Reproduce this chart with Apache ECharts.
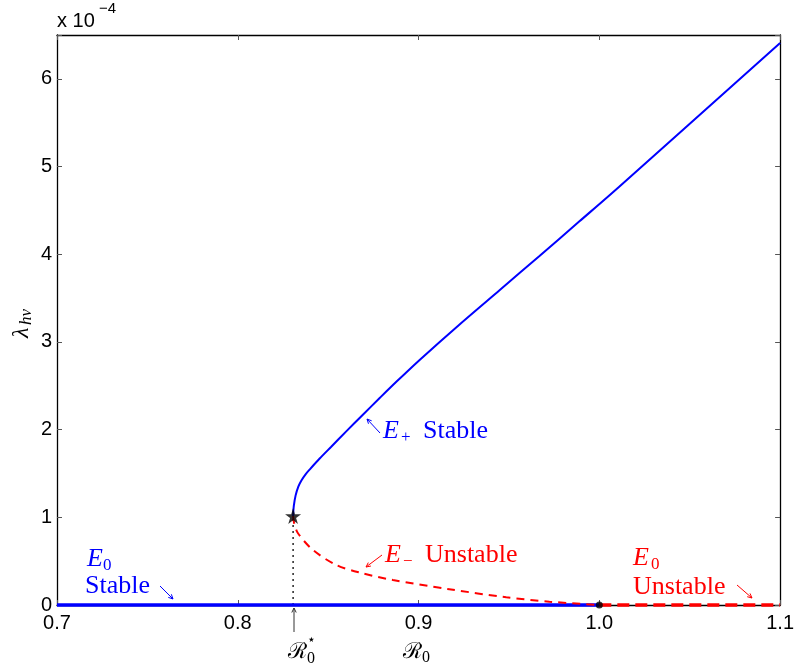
<!DOCTYPE html>
<html>
<head>
<meta charset="utf-8">
<script src="https://cdn.jsdelivr.net/npm/echarts@6/dist/echarts.min.js"></script>
<style>
  html, body { margin: 0; padding: 0; background: #fff; }
  #chart { width: 797px; height: 671px; }
</style>
</head>
<body>
<div id="chart"></div>
<script>
// values, y in units of 1e-4
const xTicks = [0.7, 0.8, 0.9, 1.0, 1.1];
const yTicks = [0, 1, 2, 3, 4, 5, 6];
const foldPoint = [0.8306, 1.015];
const transPoint = [1.0, 0];
const upperBranch = [
  [0.8306, 1.015], [0.8310, 1.13], [0.8320, 1.25], [0.8335, 1.35], [0.8352, 1.42],
  [0.8375, 1.49], [0.8400, 1.55], [0.8453, 1.67], [0.8517, 1.805], [0.8600, 1.98],
  [0.8692, 2.17], [0.8785, 2.36], [0.8877, 2.545], [0.9006, 2.795], [0.9227, 3.20],
  [0.9448, 3.59], [0.9669, 3.98], [0.9890, 4.375], [1.011, 4.77], [1.1, 6.41]
];
const lowerBranch = [
  [0.8306, 1.015], [0.8312, 0.93], [0.8333, 0.818], [0.8416, 0.627], [0.8545, 0.456],
  [0.8674, 0.37], [0.8858, 0.285], [0.917, 0.18], [0.9485, 0.088], [0.9724, 0.038], [1.0, 0]
];
const stableZero = [[0.7, 0], [1.0, 0]];
const unstableZero = [[1.0, 0], [1.1, 0]];

const BLUE = '#0000ff';
const RED = '#ff0000';
const serif = 'Liberation Serif';
const sans = 'Liberation Sans';

const chart = echarts.init(document.getElementById('chart'));

function txt(x, y, s, color, size, italic, family) {
  return {
    type: 'text', x: x, y: y, silent: true,
    style: {
      text: s, fill: color, fontFamily: family || serif, fontSize: size,
      fontStyle: italic ? 'italic' : 'normal',
      align: 'left', verticalAlign: 'middle'
    }
  };
}

function arrow(x1, y1, x2, y2, color) {
  const a = Math.atan2(y2 - y1, x2 - x1);
  const h = 5, w = 0.45;
  const ls = { stroke: color, lineWidth: 1 };
  return [
    { type: 'line', silent: true, shape: { x1: x1, y1: y1, x2: x2, y2: y2 }, style: ls },
    { type: 'line', silent: true, shape: { x1: x2, y1: y2, x2: x2 - h * Math.cos(a - w), y2: y2 - h * Math.sin(a - w) }, style: ls },
    { type: 'line', silent: true, shape: { x1: x2, y1: y2, x2: x2 - h * Math.cos(a + w), y2: y2 - h * Math.sin(a + w) }, style: ls }
  ];
}

const starPath = 'path://M50,0 L61,35 L98,35 L68,57 L79,91 L50,70 L21,91 L32,57 L2,35 L39,35 Z';

const axisCommon = {
  type: 'value',
  axisLine: { show: true, onZero: false, lineStyle: { color: '#000', width: 1.3 } },
  axisTick: { show: true, inside: true, length: 5, lineStyle: { color: '#555', width: 1 } },
  splitLine: { show: false }
};

const xMin = xTicks[0], xMax = xTicks[xTicks.length - 1];
const yMin = yTicks[0], yMax = 6.5;

chart.setOption({
  animation: false,
  backgroundColor: '#fff',
  grid: { left: 57, right: 16, top: 35, bottom: 66 },
  xAxis: [
    Object.assign({}, axisCommon, {
      position: 'bottom', min: xMin, max: xMax, interval: 0.1,
      axisLabel: { color: '#000', fontFamily: sans, fontSize: 20, margin: 8,
        formatter: v => v.toFixed(1) }
    }),
    Object.assign({}, axisCommon, {
      position: 'top', min: xMin, max: xMax, interval: 0.1,
      axisLabel: { show: false }
    })
  ],
  yAxis: [
    Object.assign({}, axisCommon, {
      position: 'left', min: yMin, max: yMax, interval: 1,
      axisLabel: { color: '#000', fontFamily: sans, fontSize: 20, margin: 5,
        formatter: v => (yTicks.indexOf(v) >= 0 ? String(v) : '') }
    }),
    Object.assign({}, axisCommon, {
      position: 'right', min: yMin, max: yMax, interval: 1,
      axisLabel: { show: false }
    })
  ],
  series: [
    {
      type: 'line', data: [[foldPoint[0], 0], foldPoint], symbol: 'none', z: 2,
      lineStyle: { color: '#000', width: 1.3, type: [2, 4] }
    },
    {
      type: 'line', data: stableZero, symbol: 'none', clip: false, z: 3,
      lineStyle: { color: BLUE, width: 3.5 }
    },
    {
      type: 'line', data: unstableZero, symbol: 'none', clip: false, z: 3,
      lineStyle: { color: RED, width: 3.5, type: [12, 6] }
    },
    {
      type: 'line', data: upperBranch, symbol: 'none', smooth: 0.3, z: 3,
      lineStyle: { color: BLUE, width: 2 }
    },
    {
      type: 'line', data: lowerBranch, symbol: 'none', smooth: 0.3, z: 3,
      lineStyle: { color: RED, width: 2, type: [8, 6] }
    },
    {
      type: 'scatter', data: [transPoint], symbol: 'circle', symbolSize: 7, clip: false, z: 5,
      itemStyle: { color: '#000' }
    },
    {
      type: 'scatter', data: [foldPoint], symbol: starPath, symbolSize: 16, z: 5,
      itemStyle: { color: '#000' }
    }
  ],
  graphic: [
    // exponent
    txt(57, 21, 'x 10', '#000', 20, false, sans),
    txt(99, 9, '\u22124', '#000', 15, false, sans),
    // y axis name
    { type: 'group', x: 22, y: 338, rotation: Math.PI / 2, silent: true,
      children: [
        txt(0, 0, '\u03bb', '#000', 24, true),
        txt(13, 5, 'hv', '#000', 17, true)
      ] },
    // x axis name and R0*
    txt(403, 652, '\u211b', '#000', 22, false, 'DejaVu Serif'),
    txt(422, 658, '0', '#000', 16, false),
    txt(288, 652, '\u211b', '#000', 22, false, 'DejaVu Serif'),
    txt(307, 640, '\u22c6', '#000', 14, false, 'DejaVu Sans'),
    txt(307, 659, '0', '#000', 16, false),
    ...arrow(294, 632, 294, 608, '#333'),
    // E0 stable
    txt(87, 559, 'E', BLUE, 26, true),
    txt(103, 566, '0', BLUE, 17, false),
    txt(85, 586, 'Stable', BLUE, 26, false),
    ...arrow(160, 586, 173, 599, BLUE),
    // E+ stable
    txt(383, 431, 'E', BLUE, 26, true),
    txt(401, 438, '+', BLUE, 17, false),
    txt(423, 431, 'Stable', BLUE, 26, false),
    ...arrow(380, 433, 367, 419, BLUE),
    // E- unstable
    txt(385, 555, 'E', RED, 26, true),
    txt(403, 562, '\u2212', RED, 17, false),
    txt(425, 555, 'Unstable', RED, 26, false),
    ...arrow(382, 555, 366, 567, RED),
    // E0 unstable
    txt(633, 558, 'E', RED, 26, true),
    txt(651, 565, '0', RED, 17, false),
    txt(633, 587, 'Unstable', RED, 26, false),
    ...arrow(737, 585, 752, 598, RED)
  ]
});
</script>
</body>
</html>
